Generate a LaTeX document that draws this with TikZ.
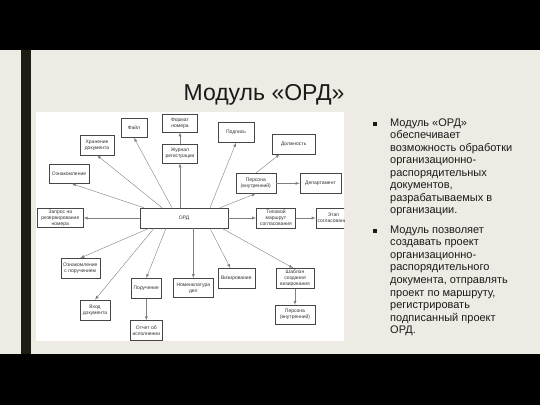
\documentclass[tikz,border=0pt]{standalone}
\usepackage{fontspec}
\setmainfont{Liberation Sans}
\usetikzlibrary{arrows, positioning}
\definecolor{slidebg}{HTML}{EEEBE4}
\definecolor{barcol}{HTML}{1E1D14}
\definecolor{txtcol}{HTML}{1A1A1A}
\tikzset{
  ordbox/.style={draw=gray!55!black, line width=0.6pt, fill=white, inner sep=1pt, align=center, text=black!80, font=\fontsize{5}{6}\selectfont},
  link/.style={draw=gray, line width=0.4pt, -latex},
}

\begin{document}
\begin{tikzpicture}[x=1pt,y=-1pt]
%slide background
\fill[black] (0,0) rectangle (540,405);
\fill[slidebg] (0,50) rectangle (540,354);
\fill[barcol] (21,50) rectangle (31,354);
\useasboundingbox (0,0) rectangle (540,405);
%title
\node[font=\fontsize{23}{27}\selectfont, text=txtcol] (title) at (264,95) {Модуль «ОРД»};
%diagram panel
\fill[white] (36,112) rectangle (344,341);
\begin{scope}
\clip (36,112) rectangle (344,341);
%boxes
\node[ordbox, minimum width=88pt, minimum height=20pt] (ord) at (184,218) {ОРД};
\node[ordbox, minimum width=35pt, minimum height=18pt] (fmt) at (180,123) {Формат\\номера};
\node[ordbox, minimum width=35pt, minimum height=19pt] (jur) at (180,153.5) {Журнал\\регистрации};
\node[ordbox, minimum width=26pt, minimum height=19pt] (fil) at (134,128) {Файл};
\node[ordbox, minimum width=34pt, minimum height=20pt] (xr) at (97,145) {Хранение\\документа};
\node[ordbox, minimum width=40pt, minimum height=19pt] (ozn) at (69,174) {Ознакомление};
\node[ordbox, minimum width=46pt, minimum height=19pt] (zap) at (60.3,218) {Запрос на\\резервирование\\номера};
\node[ordbox, minimum width=39pt, minimum height=20pt] (ozp) at (80.3,268.3) {Ознакомление\\с поручением};
\node[ordbox, minimum width=30pt, minimum height=20pt] (vh) at (95,310) {Вход\\документа};
\node[ordbox, minimum width=30pt, minimum height=20pt] (por) at (146.3,288.3) {Поручение};
\node[ordbox, minimum width=32pt, minimum height=20pt] (otch) at (146.3,330.7) {Отчет об\\исполнении};
\node[ordbox, minimum width=40pt, minimum height=19pt] (nom) at (193.3,288) {Номенклатура\\дел};
\node[ordbox, minimum width=36pt, minimum height=20pt] (pod) at (236,132.5) {Подпись};
\node[ordbox, minimum width=43pt, minimum height=20pt] (dol) at (293.7,144) {Должность};
\node[ordbox, minimum width=40pt, minimum height=20pt] (per) at (255.8,183.3) {Персона\\(внутренний)};
\node[ordbox, minimum width=41pt, minimum height=20pt] (dep) at (320.5,183.3) {Департамент};
\node[ordbox, minimum width=39pt, minimum height=20pt] (tip) at (276,218) {Типовой\\маршрут\\согласования};
\node[ordbox, minimum width=35pt, minimum height=20pt] (etap) at (333.5,218) {Этап\\согласования};
\node[ordbox, minimum width=37pt, minimum height=20pt] (viz) at (236.3,278.3) {Визирование};
\node[ordbox, minimum width=38pt, minimum height=20pt] (shb) at (295,278.3) {Шаблон\\создания\\визирования};
\node[ordbox, minimum width=40pt, minimum height=19pt] (per2) at (295,314.7) {Персона\\(внутренний)};
%links upwards
\draw[link] (jur.north) -- (fmt.south);
\draw[link] (ord.north -| jur) -- (jur.south);
\draw[link] ([xshift=-12pt]ord.north) -- (fil.south);
\draw[link] ([xshift=-22pt]ord.north) -- (xr.south);
\draw[link] ([xshift=-40pt]ord.north) -- ([xshift=3pt]ozn.south);
\draw[link] ([xshift=26pt]ord.north) -- (pod.south);
\draw[link] ([xshift=36pt]ord.north) -- (per.south);
\draw[link] (per.north) -- ([xshift=-14pt]dol.south);
\draw[link] (per.east) -- (dep.west);
%links sideways
\draw[link] (ord.west) -- (zap.east);
\draw[link] (ord.east) -- (tip.west);
\draw[link] (tip.east) -- (etap.west);
%links downwards
\draw[link] ([xshift=-35pt]ord.south) -- (ozp.north);
\draw[link] ([xshift=-30pt]ord.south) -- (vh.north);
\draw[link] ([xshift=-18pt]ord.south) -- (por.north);
\draw[link] (por.south) -- (otch.north);
\draw[link] (ord.south -| nom) -- (nom.north);
\draw[link] ([xshift=26pt]ord.south) -- ([xshift=-6pt]viz.north);
\draw[link] ([xshift=38pt]ord.south) -- ([xshift=-2pt]shb.north);
\draw[link] (shb.south) -- (per2.north);
\end{scope}
%bullet text
\fill[txtcol] (373.3,122) rectangle (377.3,126);
\fill[txtcol] (373.3,228.5) rectangle (377.3,232.5);
\node[anchor=north west, align=left, inner sep=0, font=\fontsize{11}{12.5}\selectfont, text=txtcol] (par1) at (390,118.5) {Модуль «ОРД»\\обеспечивает\\возможность обработки\\организационно-\\распорядительных\\документов,\\разрабатываемых в\\организации.};
\node[anchor=north west, align=left, inner sep=0, font=\fontsize{11}{12.6}\selectfont, text=txtcol] (par2) at (390,225.3) {Модуль позволяет\\создавать проект\\организационно-\\распорядительного\\документа, отправлять\\проект по маршруту,\\регистрировать\\подписанный проект\\ОРД.};
\end{tikzpicture}
\end{document}
